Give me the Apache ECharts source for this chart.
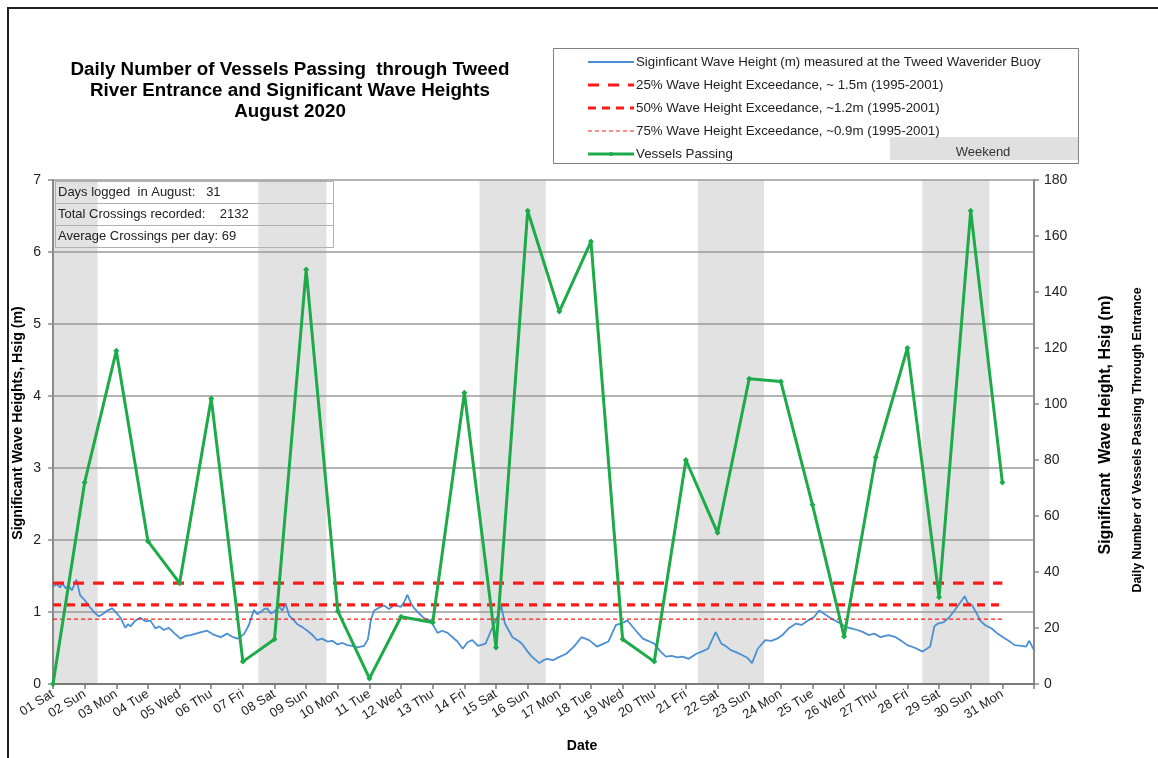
<!DOCTYPE html>
<html>
<head>
<meta charset="utf-8">
<script src="https://cdn.jsdelivr.net/npm/echarts@6/dist/echarts.min.js"></script>
<style>html,body{margin:0;padding:0;background:#fff;}#c{width:1158px;height:758px;}</style>
</head>
<body>
<div id="c"></div>
<script>
// ---------- data ----------
const dayLabels = ['01 Sat','02 Sun','03 Mon','04 Tue','05 Wed','06 Thu','07 Fri','08 Sat','09 Sun','10 Mon','11 Tue','12 Wed','13 Thu','14 Fri','15 Sat','16 Sun','17 Mon','18 Tue','19 Wed','20 Thu','21 Fri','22 Sat','23 Sun','24 Mon','25 Tue','26 Wed','27 Thu','28 Fri','29 Sat','30 Sun','31 Mon'];
const vessels = [0,72,119,51,36,102,8,16,148,26,2,24,22,104,13,169,133,158,16,8,80,54,109,108,64,17,81,120,31,169,72];
// wave record: time in days since 01 Aug 00:00, Hsig (m)
const waveDay = [0.00,0.12,0.22,0.30,0.40,0.50,0.60,0.74,0.86,0.97,1.08,1.18,1.29,1.45,1.60,1.71,1.87,2.00,2.13,2.29,2.37,2.45,2.60,2.76,2.92,3.08,3.24,3.36,3.50,3.66,3.85,4.03,4.20,4.35,4.60,4.87,5.05,5.30,5.50,5.65,5.82,6.03,6.19,6.35,6.45,6.56,6.67,6.77,6.88,6.98,7.14,7.25,7.35,7.46,7.60,7.72,7.88,8.04,8.20,8.35,8.50,8.67,8.83,8.99,9.15,9.30,9.45,9.62,9.83,9.95,10.05,10.15,10.30,10.46,10.62,10.78,10.99,11.10,11.20,11.31,11.42,11.52,11.73,11.94,12.05,12.15,12.30,12.47,12.60,12.78,12.95,13.10,13.25,13.43,13.67,13.85,14.04,14.16,14.28,14.52,14.70,14.82,15.00,15.13,15.37,15.50,15.61,15.80,15.97,16.22,16.46,16.70,16.94,17.19,17.40,17.55,17.79,17.95,18.15,18.25,18.40,18.64,18.80,19.00,19.20,19.37,19.55,19.73,19.90,20.09,20.33,20.50,20.70,20.94,21.12,21.25,21.42,21.60,21.79,21.95,22.09,22.27,22.51,22.70,22.88,23.05,23.24,23.48,23.65,23.85,24.05,24.21,24.45,24.63,24.81,25.06,25.25,25.42,25.60,25.78,25.95,26.15,26.40,26.63,26.80,27.00,27.25,27.48,27.72,27.85,27.96,28.15,28.33,28.57,28.70,28.81,28.90,29.05,29.20,29.30,29.45,29.66,29.85,30.02,30.20,30.39,30.60,30.75,30.85,31.00];
const waveHs = [1.35,1.39,1.34,1.40,1.33,1.36,1.30,1.45,1.23,1.18,1.12,1.06,1.00,0.94,0.98,1.02,1.05,0.99,0.92,0.78,0.83,0.80,0.88,0.92,0.87,0.88,0.77,0.80,0.75,0.78,0.70,0.63,0.67,0.68,0.71,0.74,0.69,0.65,0.70,0.66,0.63,0.69,0.82,1.03,0.97,1.00,1.04,1.05,0.98,1.00,1.07,1.02,1.12,0.95,0.89,0.83,0.79,0.74,0.68,0.61,0.63,0.59,0.60,0.55,0.57,0.54,0.53,0.51,0.53,0.62,0.90,1.02,1.06,1.09,1.04,1.10,1.07,1.14,1.24,1.12,1.05,1.00,0.91,0.88,0.79,0.71,0.74,0.71,0.66,0.59,0.49,0.58,0.61,0.53,0.56,0.75,0.93,1.09,0.84,0.65,0.60,0.56,0.45,0.38,0.29,0.33,0.35,0.33,0.37,0.42,0.52,0.65,0.61,0.52,0.56,0.59,0.82,0.84,0.88,0.83,0.75,0.63,0.60,0.56,0.45,0.38,0.39,0.37,0.38,0.35,0.42,0.45,0.49,0.72,0.56,0.53,0.47,0.44,0.40,0.36,0.29,0.49,0.61,0.60,0.63,0.68,0.77,0.84,0.82,0.88,0.93,1.02,0.95,0.90,0.86,0.79,0.77,0.75,0.72,0.68,0.70,0.65,0.68,0.65,0.60,0.54,0.50,0.45,0.52,0.80,0.84,0.86,0.93,1.07,1.15,1.22,1.13,1.09,0.97,0.88,0.82,0.77,0.70,0.65,0.60,0.54,0.53,0.52,0.60,0.47];
const exceed25 = 1.4, exceed50 = 1.1, exceed75 = 0.9;
const weekendStart = [0, 6.49, 13.48, 20.38, 27.47];
const weekendEnd   = [1.41, 8.64, 15.57, 22.47, 29.59];
const leftTicks = {min: 0, max: 7, interval: 1};
const rightTicks = {min: 0, max: 180, interval: 20};
const titleLines = ['Daily Number of Vessels Passing  through Tweed','River Entrance and Significant Wave Heights','August 2020'];
const legendNames = ['Siginficant Wave Height (m) measured at the Tweed Waverider Buoy','25% Wave Height Exceedance, ~ 1.5m (1995-2001)','50% Wave Height Exceedance, ~1.2m (1995-2001)','75% Wave Height Exceedance, ~0.9m (1995-2001)','Vessels Passing'];
const infoLines = ['Days logged  in August:   31','Total Crossings recorded:    2132','Average Crossings per day: 69'];

// ---------- chart ----------
const FONT = '"Liberation Sans", Arial, sans-serif';
const chart = echarts.init(document.getElementById('c'));
const lastDay = dayLabels.length - 1;

const waveData = waveDay.map((d, i) => [d, waveHs[i]]);
const vesselData = vessels.map((v, i) => [i, v]);
const flat = (lvl) => [[0, lvl], [lastDay, lvl]];
const bands = weekendStart.map((s, i) => [{xAxis: s}, {xAxis: weekendEnd[i]}]);

const BLUE = '#4a8fd3', GREEN = '#1daa48', RED = '#ff1a1a';

const G = [];
// outer frame (left & top edges visible)
G.push({type: 'polyline', shape: {points: [[8, 770], [8, 8], [1170, 8]]}, style: {stroke: '#222', lineWidth: 2, fill: null}, z: 100});
// title
titleLines.forEach((t, i) => G.push({type: 'text', x: 290, y: 70 + i * 21, style: {text: t, font: 'bold 18.8px ' + FONT, fill: '#000', align: 'center', verticalAlign: 'middle'}, z: 100}));
// legend box
G.push({type: 'rect', shape: {x: 553.5, y: 48.5, width: 525, height: 115}, style: {fill: '#fff', stroke: '#808080', lineWidth: 1}, z: 100});
G.push({type: 'rect', shape: {x: 890, y: 137, width: 188, height: 23}, style: {fill: '#e0e0e0'}, z: 101});
G.push({type: 'text', x: 983, y: 152, style: {text: 'Weekend', font: '13px ' + FONT, fill: '#333', align: 'center', verticalAlign: 'middle'}, z: 102});
const legStyles = [
  {stroke: BLUE, lineWidth: 1.8, lineDash: null},
  {stroke: RED, lineWidth: 3.2, lineDash: [11, 9]},
  {stroke: RED, lineWidth: 3.2, lineDash: [8, 6]},
  {stroke: RED, lineWidth: 1.2, lineDash: [4, 3]},
  {stroke: GREEN, lineWidth: 3, lineDash: null}
];
legendNames.forEach((n, i) => {
  const y = 62 + i * 23;
  G.push({type: 'line', shape: {x1: 588, y1: y, x2: 634, y2: y}, style: Object.assign({fill: null}, legStyles[i]), z: 102});
  G.push({type: 'text', x: 636, y: y, style: {text: n, font: '13.3px ' + FONT, fill: '#222', align: 'left', verticalAlign: 'middle'}, z: 102});
});
G.push({type: 'circle', shape: {cx: 611, cy: 154, r: 2}, style: {fill: GREEN}, z: 103});
// info box
infoLines.forEach((t, i) => {
  const y0 = 181 + i * 22;
  G.push({type: 'rect', shape: {x: 55.5, y: y0 + 0.5, width: 278, height: 22}, style: {fill: null, stroke: '#b0b0b0', lineWidth: 1}, z: 100});
  G.push({type: 'text', x: 58, y: y0 + 11.5, style: {text: t, font: '13px ' + FONT, fill: '#222', align: 'left', verticalAlign: 'middle'}, z: 101});
});
// axis titles
G.push({type: 'text', x: 18, y: 423, rotation: Math.PI / 2, style: {text: 'Significant Wave Heights, Hsig (m)', font: 'bold 14.2px ' + FONT, fill: '#000', align: 'center', verticalAlign: 'middle'}, z: 100});
G.push({type: 'text', x: 1106, y: 425, rotation: Math.PI / 2, style: {text: 'Significant  Wave Height, Hsig (m)', font: 'bold 16px ' + FONT, fill: '#000', align: 'center', verticalAlign: 'middle'}, z: 100});
G.push({type: 'text', x: 1138, y: 440, rotation: Math.PI / 2, style: {text: 'Daily Number of Vessels Passing Through Entrance', font: 'bold 12.4px ' + FONT, fill: '#000', align: 'center', verticalAlign: 'middle'}, z: 100});
G.push({type: 'text', x: 582, y: 746, style: {text: 'Date', font: 'bold 14px ' + FONT, fill: '#000', align: 'center', verticalAlign: 'middle'}, z: 100});

const option = {
  backgroundColor: '#fff',
  animation: false,
  textStyle: {fontFamily: FONT},
  grid: {left: 53, right: 124, top: 180, bottom: 74, containLabel: false},
  xAxis: {
    type: 'value', min: 0, max: dayLabels.length, interval: 1, z: 3,
    axisLine: {show: true, lineStyle: {color: '#7a7a7a', width: 2}},
    axisTick: {show: true, length: 5, lineStyle: {color: '#7a7a7a', width: 1.5}},
    axisLabel: {rotate: 32, margin: 9, fontSize: 13, color: '#222', fontFamily: FONT,
      formatter: (v) => (v <= lastDay ? dayLabels[Math.round(v)] : '')},
    splitLine: {show: false}
  },
  yAxis: [
    {type: 'value', min: leftTicks.min, max: leftTicks.max, interval: leftTicks.interval, z: 3,
      axisLine: {show: true, lineStyle: {color: '#8a8a8a', width: 2}},
      axisTick: {show: true, length: 5, lineStyle: {color: '#8a8a8a', width: 1.5}},
      axisLabel: {margin: 12, fontSize: 14, color: '#222', fontFamily: FONT},
      splitLine: {show: true, lineStyle: {color: '#9a9a9a', width: 1.5}}},
    {type: 'value', min: rightTicks.min, max: rightTicks.max, interval: rightTicks.interval, z: 3,
      axisLine: {show: true, lineStyle: {color: '#8a8a8a', width: 2}},
      axisTick: {show: true, length: 5, lineStyle: {color: '#8a8a8a', width: 1.5}},
      axisLabel: {margin: 10, fontSize: 14, color: '#222', fontFamily: FONT},
      splitLine: {show: false}}
  ],
  graphic: G,
  series: [
    {name: 'Weekend', type: 'line', data: [], z: 1, silent: true,
      markArea: {silent: true, itemStyle: {color: '#e2e2e2'}, data: bands}},
    {name: legendNames[0], type: 'line', data: waveData, yAxisIndex: 0, z: 5, showSymbol: false, symbol: 'none',
      lineStyle: {color: BLUE, width: 1.8}},
    {name: legendNames[1], type: 'line', data: flat(exceed25), yAxisIndex: 0, z: 6, symbol: 'none',
      lineStyle: {color: RED, width: 3.2, type: [11, 9]}},
    {name: legendNames[2], type: 'line', data: flat(exceed50), yAxisIndex: 0, z: 6, symbol: 'none',
      lineStyle: {color: RED, width: 3.2, type: [8, 6]}},
    {name: legendNames[3], type: 'line', data: flat(exceed75), yAxisIndex: 0, z: 6, symbol: 'none',
      lineStyle: {color: RED, width: 1.2, type: [4, 3]}},
    {name: legendNames[4], type: 'line', data: vesselData, yAxisIndex: 1, z: 7,
      symbol: 'diamond', symbolSize: 6, itemStyle: {color: GREEN},
      lineStyle: {color: GREEN, width: 3}}
  ]
};
chart.setOption(option);
</script>
</body>
</html>
